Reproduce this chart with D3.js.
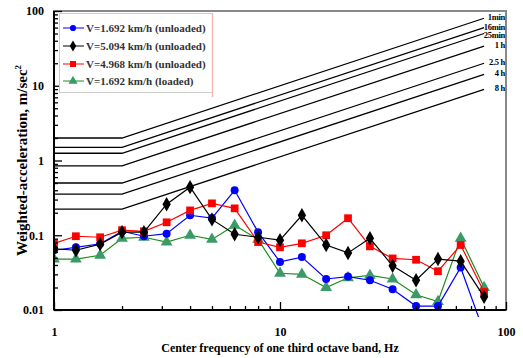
<!DOCTYPE html>
<head>
<meta charset="utf-8">
<script src="https://cdn.jsdelivr.net/npm/d3@7"></script>
<style>
body { margin: 0; background: #fff; }
text { font-family: "Liberation Serif", "Times New Roman", serif; font-weight: bold; }
</style>
</head>
<body>
<script>
// one third octave band centre frequencies, Hz
var freqs = [1, 1.25, 1.6, 2, 2.5, 3.15, 4, 5, 6.3, 8, 10, 12.5, 16, 20, 25, 31.5, 40, 50, 63, 80];

// weighted acceleration, m/sec2
var blueVals  = [0.063, 0.069, 0.077, 0.113, 0.097, 0.105, 0.185, 0.17, 0.4, 0.11, 0.044, 0.051, 0.026, 0.028, 0.025, 0.019, 0.0113, 0.0113, 0.037, 0.005];
var blackVals = [0.066, 0.063, 0.076, 0.11, 0.11, 0.26, 0.44, 0.163, 0.103, 0.094, 0.086, 0.185, 0.074, 0.058, 0.091, 0.039, 0.025, 0.048, 0.045, 0.015];
var redVals   = [0.078, 0.097, 0.094, 0.117, 0.113, 0.149, 0.215, 0.267, 0.229, 0.081, 0.069, 0.078, 0.1, 0.169, 0.071, 0.049, 0.047, 0.033, 0.074, 0.0174];
var greenVals = [0.048, 0.048, 0.054, 0.091, 0.094, 0.081, 0.1, 0.088, 0.136, 0.088, 0.031, 0.03, 0.02, 0.027, 0.029, 0.026, 0.016, 0.013, 0.091, 0.02];

var seriesNames = ["V=1.692 km/h (unloaded)", "V=5.094 km/h (unloaded)", "V=4.968 km/h (unloaded)", "V=1.692 km/h (loaded)"];

// exposure limit curves (break points at 1, 2 and 80 Hz)
var limitFreqs = [1, 2, 80];
var limitLabels = ["1min", "16min", "25min", "1 h", "2.5 h", "4 h", "8 h"];
var limitVals = [
  [2.0, 2.0, 80],
  [1.5, 1.5, 60],
  [1.25, 1.25, 50],
  [0.85, 0.85, 34],
  [0.5, 0.5, 20],
  [0.355, 0.355, 14.2],
  [0.224, 0.224, 8.96]
];

var xTicks = [1, 10, 100];
var yTicks = [0.01, 0.1, 1, 10, 100];

var width = 523, height = 358;
var pL = 54, pR = 506, pT = 11, pB = 310;

var svg = d3.select("body").append("svg")
  .attr("width", width)
  .attr("height", height);

var x = d3.scaleLog().domain([1, 100]).range([pL, pR]);
var y = d3.scaleLog().domain([0.01, 100]).range([pB, pT]);

// frame
svg.append("rect")
  .attr("x", pL).attr("y", pT)
  .attr("width", pR - pL).attr("height", pB - pT)
  .attr("fill", "none").attr("stroke", "#888").attr("stroke-width", 2);

svg.append("clipPath").attr("id", "plotclip")
  .append("rect").attr("x", pL).attr("y", pT)
  .attr("width", pR - pL).attr("height", pB - pT + 7);

// limit curves, labels pushed apart so they don't collide
var line = d3.line().x(function(d) { return x(d[0]); }).y(function(d) { return y(d[1]); });
var lastY = -100;
limitVals.forEach(function(vals, i) {
  var pts = limitFreqs.map(function(f, j) { return [f, vals[j]]; });
  svg.append("path").attr("d", line(pts))
    .attr("fill", "none").attr("stroke", "black").attr("stroke-width", 1.3);
  var ly = Math.max(y(vals[2]) + 2, lastY + 8.5);
  lastY = ly;
  svg.append("text")
    .attr("x", pR - 1).attr("y", ly)
    .attr("text-anchor", "end").attr("font-size", 8.5)
    .attr("letter-spacing", -0.3)
    .text(limitLabels[i]);
});

// data series
var series = [
  {vals: greenVals, line: "#1e8c1e", fill: "#3a9a68", sym: d3.symbolTriangle, size: 60},
  {vals: blueVals, line: "#0000ff", fill: "#0000ff", sym: d3.symbolCircle, size: 50},
  {vals: redVals, line: "#ff0000", fill: "#ff0000", sym: d3.symbolSquare, size: 60},
  {vals: blackVals, line: "black", fill: "black", sym: d3.symbolDiamond, size: 60}
];
var plot = svg.append("g").attr("clip-path", "url(#plotclip)");
series.forEach(function(s) {
  var pts = freqs.map(function(f, j) { return [f, s.vals[j]]; });
  plot.append("path").attr("d", line(pts))
    .attr("fill", "none").attr("stroke", s.line).attr("stroke-width", 1.2);
  plot.selectAll(null).data(pts).enter().append("path")
    .attr("d", d3.symbol().type(s.sym).size(s.size))
    .attr("transform", function(d) { return "translate(" + x(d[0]) + "," + y(d[1]) + ")"; })
    .attr("fill", s.fill);
});

// axes, ticks pointing inward
var xMinor = x.ticks().filter(function(d) { return xTicks.indexOf(d) < 0; });
var yMinor = y.ticks().filter(function(d) { return yTicks.indexOf(d) < 0; });
var fmt = function(d) { return String(d); };

var gx = svg.append("g").attr("transform", "translate(0," + pB + ")");
gx.call(d3.axisBottom(x).tickValues(xMinor).tickSize(-4).tickFormat(""));
gx.append("g").call(d3.axisBottom(x).tickValues(xTicks).tickSize(-8).tickPadding(17).tickFormat(fmt));
gx.selectAll(".domain").attr("stroke-width", 2).attr("d", "M" + pL + ",0H" + pR);
gx.selectAll("line").attr("stroke-width", 1.3);
gx.selectAll("text").attr("font-size", 12).attr("fill", "black");

var gy = svg.append("g").attr("transform", "translate(" + pL + ",0)");
gy.call(d3.axisLeft(y).tickValues(yMinor).tickSize(-4).tickFormat(""));
gy.append("g").call(d3.axisLeft(y).tickValues(yTicks).tickSize(-8).tickPadding(10).tickFormat(fmt));
gy.selectAll(".domain").attr("stroke-width", 2).attr("d", "M0," + pB + "V" + pT);
gy.selectAll("line").attr("stroke-width", 1.3);
gy.selectAll("text").attr("font-size", 12).attr("fill", "black");

// axis titles
svg.append("text")
  .attr("x", (pL + pR) / 2).attr("y", 352)
  .attr("text-anchor", "middle").attr("font-size", 12)
  .text("Center frequency of one third octave band, Hz");

var yt = svg.append("text")
  .attr("transform", "translate(27," + ((pT + pB) / 2) + ") rotate(-90)")
  .attr("text-anchor", "middle").attr("font-size", 15);
yt.append("tspan").text("Weighted-acceleration, m/sec");
yt.append("tspan").attr("dy", -6).attr("font-size", 9).text("2");

// legend
var lg = svg.append("g");
lg.append("clipPath").attr("id", "legclip")
  .append("rect").attr("x", 59).attr("y", 13).attr("width", 153).attr("height", 80);
lg.append("rect").attr("x", 59.5).attr("y", 13.5).attr("width", 153).attr("height", 79)
  .attr("fill", "white").attr("stroke", "#ccc");
lg.append("line").attr("x1", 212.5).attr("x2", 212.5).attr("y1", 13).attr("y2", 97)
  .attr("stroke", "#f4b8b8").attr("stroke-width", 1.5);
var legOrder = [series[1], series[3], series[2], series[0]];
var legY = [28, 46, 64, 81];
legOrder.forEach(function(s, i) {
  var row = lg.append("g").attr("clip-path", "url(#legclip)");
  row.append("line").attr("x1", 63).attr("x2", 84).attr("y1", legY[i]).attr("y2", legY[i])
    .attr("stroke", s.line).attr("stroke-width", 1);
  row.append("path").attr("d", d3.symbol().type(s.sym).size(s.size * 0.6))
    .attr("transform", "translate(73," + legY[i] + ")").attr("fill", s.fill);
  row.append("text").attr("x", 86).attr("y", legY[i] + 4)
    .attr("font-size", 11).attr("font-weight", "normal").attr("fill", "#333")
    .text(seriesNames[i]);
});
</script>
</body>
